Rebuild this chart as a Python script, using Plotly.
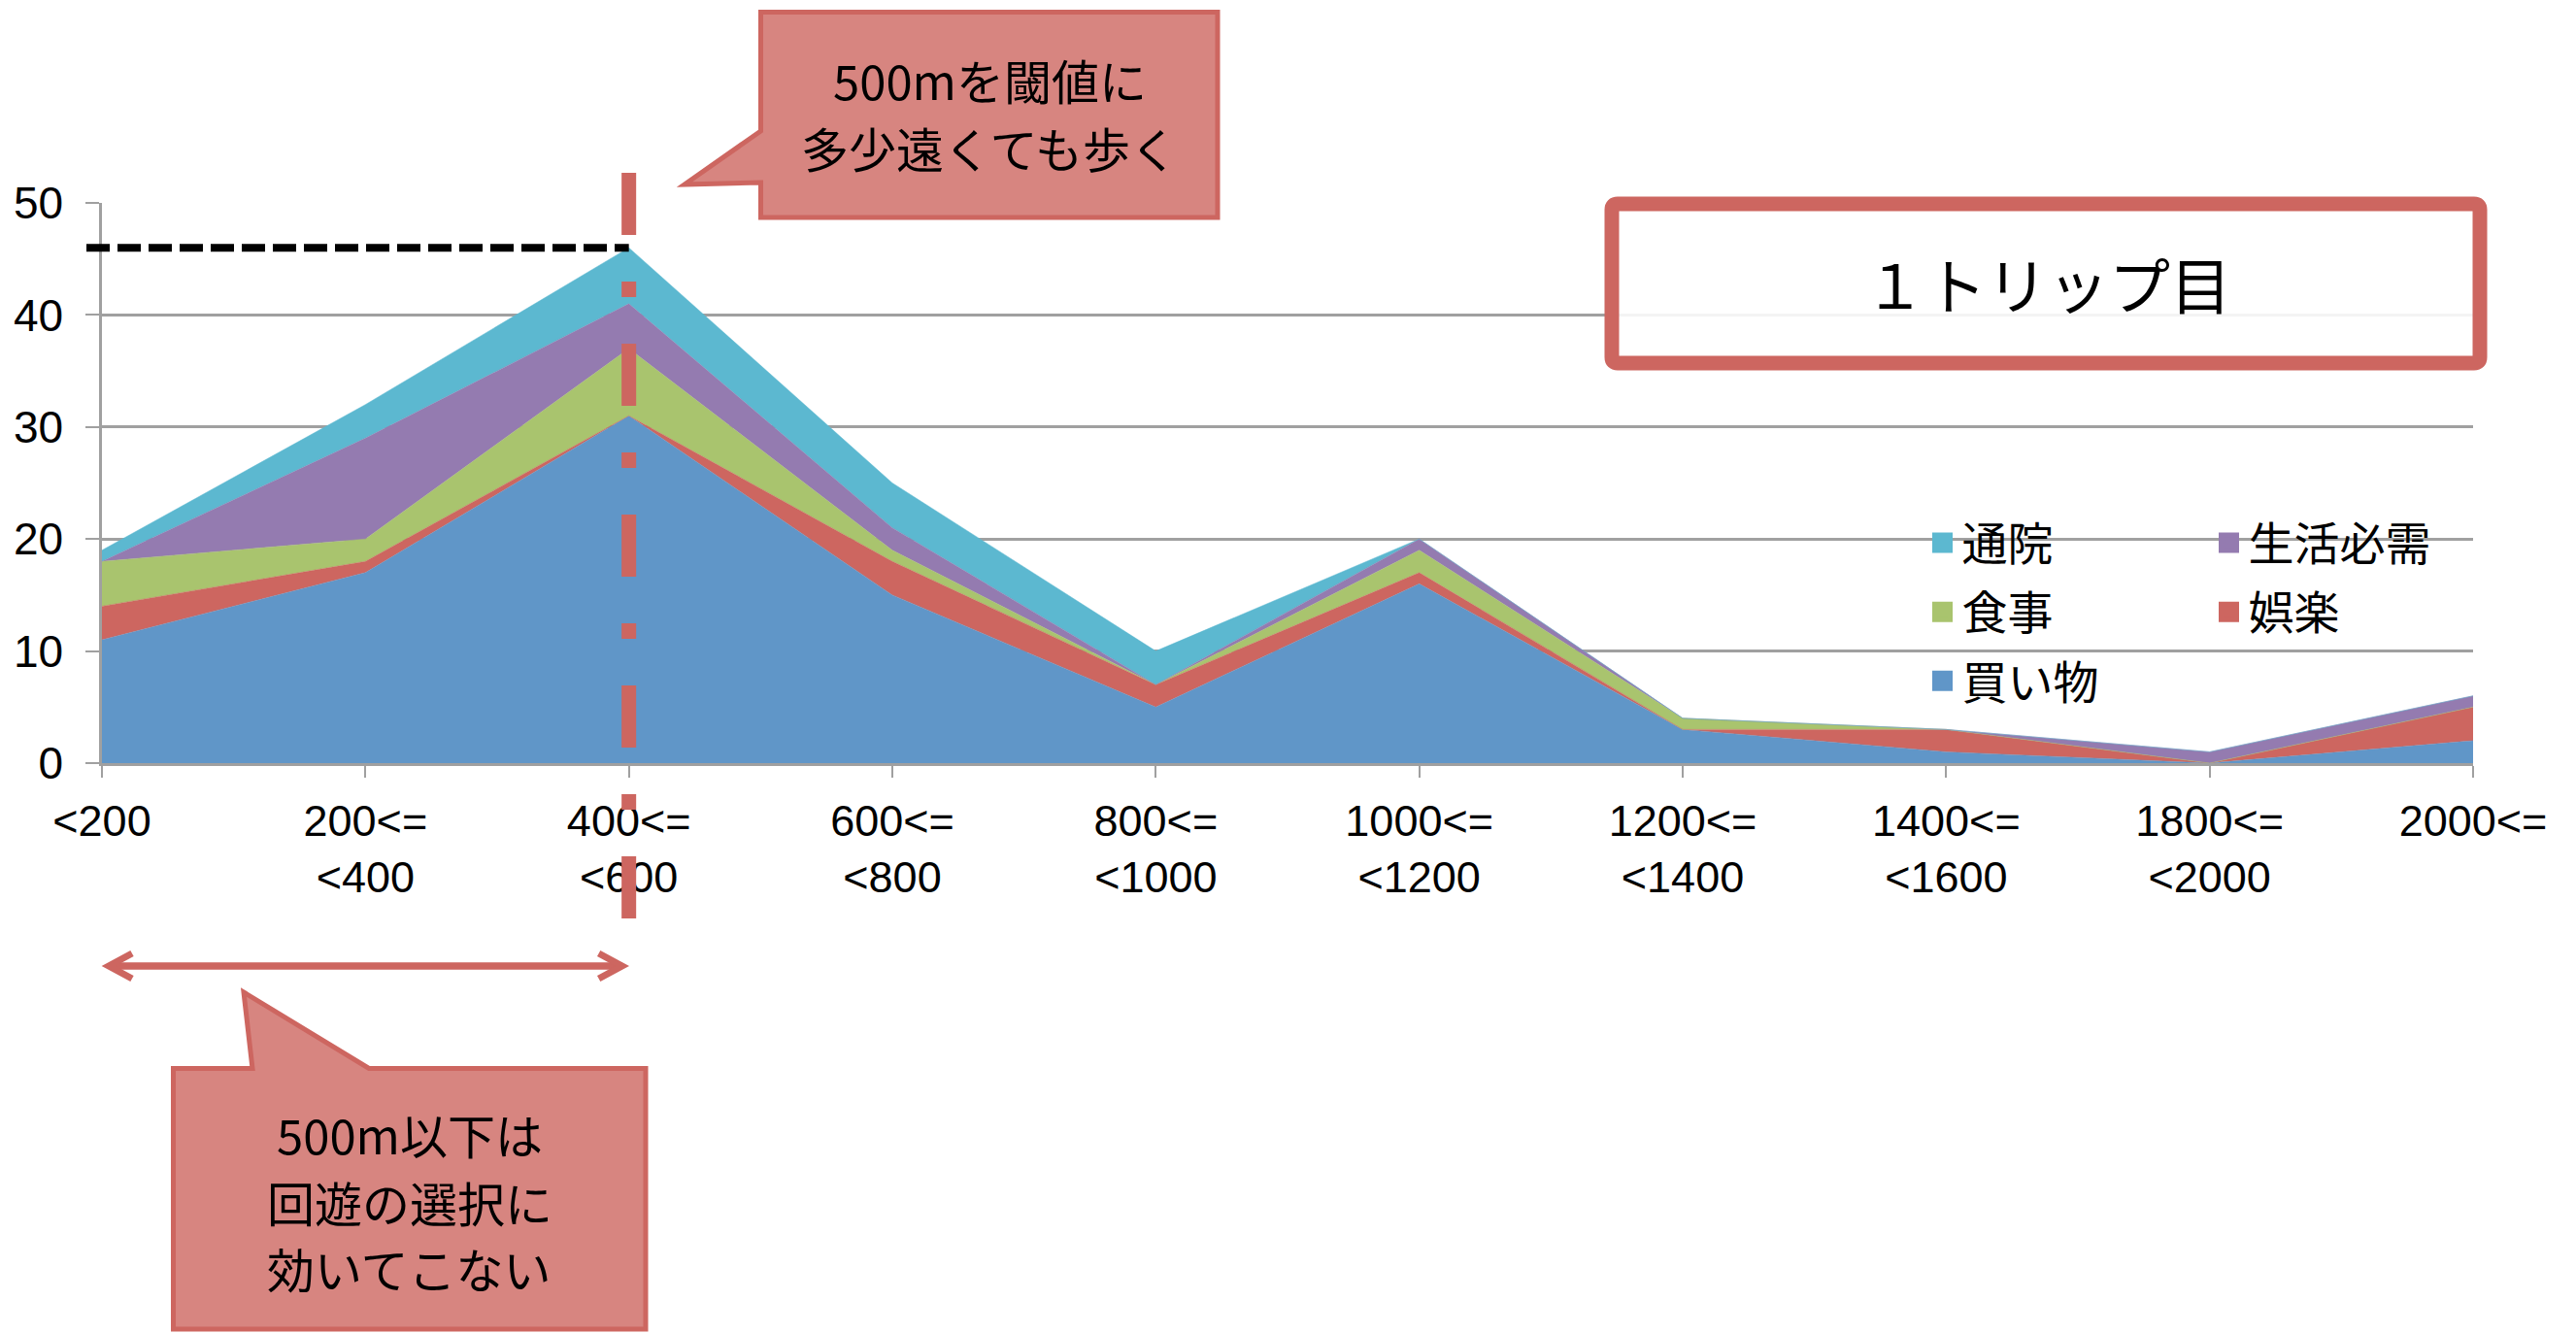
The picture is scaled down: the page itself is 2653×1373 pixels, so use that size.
import plotly.graph_objects as go

# Distance bands (m); the 1600-1800 band is not part of this tally
categories = ["&lt;200", "200&lt;=<br>&lt;400", "400&lt;=<br>&lt;600", "600&lt;=<br>&lt;800",
              "800&lt;=<br>&lt;1000", "1000&lt;=<br>&lt;1200", "1200&lt;=<br>&lt;1400",
              "1400&lt;=<br>&lt;1600", "1800&lt;=<br>&lt;2000", "2000&lt;="]

# Trip counts per purpose, stacked bottom to top
shopping = [11, 17, 31, 15, 5, 16, 3, 1, 0, 2]   # 買い物
leisure = [3, 1, 0, 3, 2, 1, 0, 2, 0, 3]         # 娯楽
meal = [4, 2, 6, 1, 0, 2, 1, 0, 0, 0]            # 食事
daily = [0, 9, 4, 2, 0, 1, 0, 0, 1, 1]           # 生活必需
clinic = [1, 3, 5, 4, 3, 0, 0, 0, 0, 0]          # 通院

y_ticks = [0, 10, 20, 30, 40, 50]
threshold_index = 2          # the 400<=<600 band (500 m threshold)

series = [
    ("買い物", shopping, "#6096C8", "legend"),
    ("娯楽", leisure, "#CD6660", "legend2"),
    ("食事", meal, "#A9C46E", "legend"),
    ("生活必需", daily, "#947BB0", "legend2"),
    ("通院", clinic, "#5CB8D0", "legend"),
]
legend_order = ["通院", "生活必需", "食事", "娯楽", "買い物"]

W, H = 2653, 1373
M = dict(l=105, r=106, t=209, b=587)
PW = W - M["l"] - M["r"]
PH = H - M["t"] - M["b"]
N = len(categories)


def px_x(px):
    return (px - M["l"]) / PW


def px_y(py):
    return (H - M["b"] - py) / PH


def cat_px(i):
    return M["l"] + i * PW / (N - 1)


def px_path(segments, close=True):
    parts = []
    for cmd, pts in segments:
        parts.append(cmd + " ".join(f"{px_x(x):.5f},{px_y(y):.5f}" for x, y in pts))
    return " ".join(parts) + (" Z" if close else "")


RED = "#CD6660"
JP = "Noto Sans CJK JP"
LAT = "Liberation Sans"

fig = go.Figure()
xs = list(range(N))
for name, vals, color, _ in series:
    fig.add_trace(go.Scatter(
        x=xs, y=vals, name=name, stackgroup="one", mode="lines",
        line=dict(width=0.5, color=color), fillcolor=color,
        showlegend=False, hoverinfo="skip",
    ))

# Legend entries as square swatches, two columns
lookup = {s[0]: s for s in series}
for name in legend_order:
    _, _, color, leg = lookup[name]
    fig.add_trace(go.Scatter(
        x=[None], y=[None], name=name, mode="markers", legend=leg, legendgroup=name,
        marker=dict(symbol="square", size=16, color=color, line=dict(color=color, width=5)),
    ))

totals = [sum(v) for v in zip(shopping, leisure, meal, daily, clinic)]
peak = max(totals)

shapes = []
# title frame
r = 6
x0, y0, x1, y1 = 1660, 210, 2554, 374
shapes.append(dict(
    type="path", xref="paper", yref="paper", layer="above",
    path=px_path([
        ("M", [(x0 + r, y0)]), ("L", [(x1 - r, y0)]), ("Q", [(x1, y0), (x1, y0 + r)]),
        ("L", [(x1, y1 - r)]), ("Q", [(x1, y1), (x1 - r, y1)]),
        ("L", [(x0 + r, y1)]), ("Q", [(x0, y1), (x0, y1 - r)]),
        ("L", [(x0, y0 + r)]), ("Q", [(x0, y0), (x0 + r, y0)]),
    ]),
    fillcolor="rgba(255,255,255,0.88)", line=dict(color=RED, width=15),
))
# upper speech bubble
shapes.append(dict(
    type="path", xref="paper", yref="paper", layer="above",
    path=px_path([
        ("M", [(783.5, 12.5)]), ("L", [(1254, 12.5)]), ("L", [(1254, 224)]),
        ("L", [(783.5, 224)]), ("L", [(783.5, 188)]), ("L", [(705, 190)]),
        ("L", [(783.5, 135)]),
    ]),
    fillcolor="rgba(205,102,96,0.8)", line=dict(color=RED, width=5),
))
# lower speech bubble
shapes.append(dict(
    type="path", xref="paper", yref="paper", layer="above",
    path=px_path([
        ("M", [(178.5, 1100.5)]), ("L", [(260, 1100.5)]), ("L", [(251, 1022)]),
        ("L", [(380, 1100.5)]), ("L", [(665, 1100.5)]), ("L", [(665, 1369)]),
        ("L", [(178.5, 1369)]),
    ]),
    fillcolor="rgba(205,102,96,0.8)", line=dict(color=RED, width=5),
))
# peak level, dashed black
shapes.append(dict(
    type="line", xref="paper", yref="y", layer="above",
    x0=px_x(89), x1=threshold_index / (N - 1), y0=peak, y1=peak,
    line=dict(color="black", width=8, dash="24px,8px"),
))
# threshold marker, long dash-dot red
shapes.append(dict(
    type="line", xref="paper", yref="paper", layer="above",
    x0=threshold_index / (N - 1), x1=threshold_index / (N - 1),
    y0=px_y(178), y1=px_y(948),
    line=dict(color=RED, width=15, dash="64px,48px,16px,48px"),
))
# double-headed span arrow below the axis
ay = 995
shapes.append(dict(
    type="line", xref="paper", yref="paper", layer="above",
    x0=px_x(cat_px(0) + 7), x1=px_x(cat_px(threshold_index) - 7),
    y0=px_y(ay), y1=px_y(ay),
    line=dict(color=RED, width=7.5),
))
for idx, sgn in ((0, 1), (threshold_index, -1)):
    shapes.append(dict(
        type="path", xref="paper", yref="paper", layer="above",
        xsizemode="pixel", ysizemode="pixel",
        xanchor=idx / (N - 1), yanchor=px_y(ay),
        path=f"M{31 * sgn},13 L{7 * sgn},0 L{31 * sgn},-13",
        line=dict(color=RED, width=7),
    ))

annotations = []


def label(text, cx, cy, size=49):
    annotations.append(dict(
        text=text, xref="paper", yref="paper", x=px_x(cx), y=px_y(cy),
        xanchor="center", yanchor="middle", showarrow=False,
        font=dict(family=JP, size=size, color="black"),
    ))


label("１トリップ目", 2109, 290, size=63)
label("500mを閾値に", 1019, 81.5)
label("多少遠くても歩く", 1019, 152)
label("500m以下は", 421.8, 1167)
label("回遊の選択に", 421.8, 1237)
label("効いてこない", 421.8, 1305)

legend_common = dict(
    orientation="v", xanchor="left", yanchor="top", bgcolor="rgba(0,0,0,0)",
    borderwidth=0, traceorder="grouped", tracegroupgap=7,
    font=dict(family=JP, size=47, color="black"),
)

fig.update_layout(
    width=W, height=H, margin=M,
    paper_bgcolor="white", plot_bgcolor="white",
    showlegend=True,
    legend=dict(x=px_x(1980.5), y=px_y(522), **legend_common),
    legend2=dict(x=px_x(2275.5), y=px_y(522), **legend_common),
    shapes=shapes, annotations=annotations,
    xaxis=dict(
        range=[0, N - 1], tickvals=xs, ticktext=categories, tickangle=0, automargin=False,
        showgrid=False, zeroline=False, showline=True, linecolor="#A0A0A0", linewidth=2.5,
        ticks="outside", ticklen=12, tickwidth=2, tickcolor="#A0A0A0",
        ticklabelstandoff=6, tickfont=dict(family=LAT, size=45, color="black"),
    ),
    yaxis=dict(
        range=[0, 50], tickvals=y_ticks, showgrid=True, gridcolor="#A0A0A0", gridwidth=2.5,
        automargin=False,
        zeroline=False, showline=True, linecolor="#A0A0A0", linewidth=2.5,
        ticks="outside", ticklen=14, tickwidth=2, tickcolor="#A0A0A0",
        ticklabelstandoff=14, tickfont=dict(family=LAT, size=46, color="black"),
    ),
)

fig.write_html("out.html")
